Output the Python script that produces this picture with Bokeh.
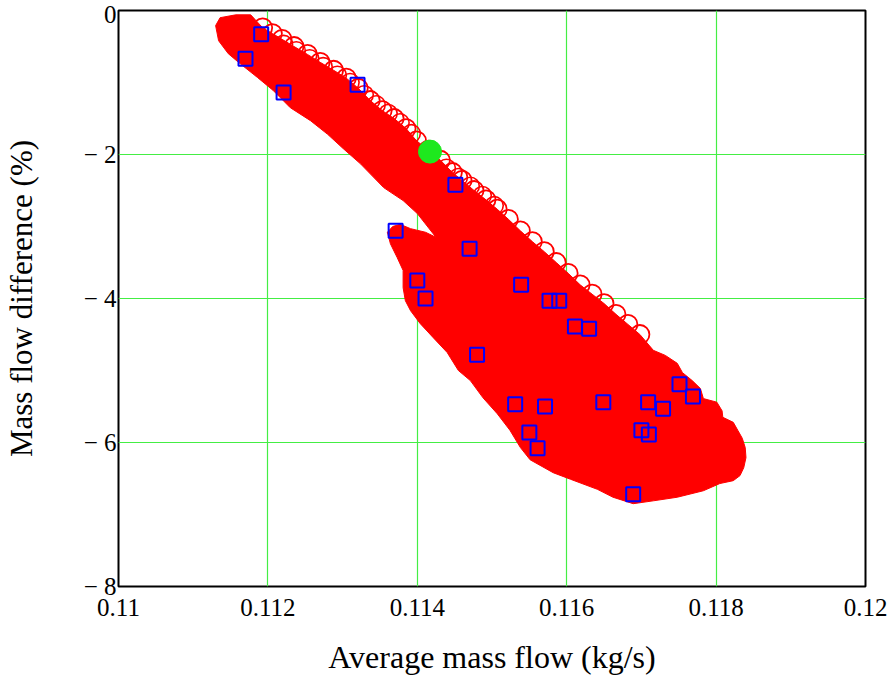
from bokeh.plotting import figure
from bokeh.models import Range1d, FixedTicker
from bokeh.embed import file_html
from bokeh.resources import INLINE

# ---- data ----
x_ticks = [0.11, 0.112, 0.114, 0.116, 0.118, 0.12]
x_tick_labels = ["0.11", "0.112", "0.114", "0.116", "0.118", "0.12"]
y_ticks = [-8, -6, -4, -2, 0]
y_tick_labels = ["\u2212 8", "\u2212 6", "\u2212 4", "\u2212 2", "0"]

# dense cloud of simulated points: outline of the solid region
cloud_head_x = [0.11130, 0.11136, 0.11157, 0.11177]
cloud_head_y = [-0.21, -0.10, -0.06, -0.06]
# individual open circles visible on the upper edge of the cloud
edge_x = [0.11193, 0.11206, 0.11219, 0.11235, 0.11253, 0.11270, 0.11288, 0.11305, 0.11321, 0.11337,
          0.11353, 0.11369, 0.11385, 0.11399, 0.11415, 0.11431, 0.11447, 0.11460, 0.11476, 0.11492,
          0.11507, 0.11522, 0.11538, 0.11554, 0.11570, 0.11586, 0.11602, 0.11618, 0.11634, 0.11650,
          0.11666, 0.11682, 0.11698]
edge_y = [-0.24, -0.32, -0.40, -0.50, -0.61, -0.72, -0.83, -0.94, -1.08, -1.25,
          -1.39, -1.50, -1.64, -1.81, -1.94, -2.08, -2.25, -2.36, -2.50, -2.63,
          -2.76, -2.90, -3.06, -3.21, -3.35, -3.50, -3.65, -3.81, -3.94, -4.07,
          -4.22, -4.36, -4.50]
# second, inner row of open circles on the upper edge
edge2_x = [0.11221, 0.11238, 0.11256, 0.11274, 0.11293, 0.11310, 0.11329, 0.11345, 0.11361, 0.11377,
           0.11392, 0.11439, 0.11455, 0.11471, 0.11487, 0.11503]
edge2_y = [-0.47, -0.56, -0.67, -0.78, -0.90, -1.00, -1.17, -1.31, -1.43, -1.56,
           -1.71, -2.19, -2.32, -2.44, -2.57, -2.71]
cloud_tail_x = [0.11716, 0.11732, 0.11748, 0.11755, 0.11768, 0.11779, 0.11783, 0.11801, 0.11808, 0.11809,
                0.11823, 0.11829, 0.11835, 0.11839, 0.11840, 0.11837, 0.11832, 0.11823, 0.11805, 0.11783,
                0.11748, 0.11716, 0.11689, 0.11662, 0.11641, 0.11605, 0.11582, 0.11551, 0.11538, 0.11524,
                0.11507, 0.11488, 0.11471, 0.11455, 0.11440, 0.11421, 0.11404, 0.11391, 0.11384, 0.11381,
                0.11381, 0.11373, 0.11364, 0.11360, 0.11367, 0.11377, 0.11391, 0.11411, 0.11425, 0.11400,
                0.11381, 0.11355, 0.11324, 0.11301, 0.11280, 0.11257, 0.11230, 0.11207, 0.11186, 0.11163,
                0.11147, 0.11134]
cloud_tail_y = [-4.72, -4.79, -4.90, -5.03, -5.14, -5.25, -5.39, -5.44, -5.56, -5.65,
                -5.72, -5.83, -5.94, -6.07, -6.21, -6.35, -6.46, -6.53, -6.57, -6.67,
                -6.76, -6.81, -6.85, -6.76, -6.65, -6.51, -6.42, -6.24, -6.07, -5.83,
                -5.60, -5.38, -5.14, -5.00, -4.75, -4.54, -4.35, -4.17, -4.03, -3.85,
                -3.61, -3.43, -3.24, -3.08, -3.00, -2.97, -3.03, -3.08, -3.15, -2.82,
                -2.64, -2.46, -2.13, -1.92, -1.72, -1.53, -1.35, -1.11, -0.93, -0.74,
                -0.60, -0.42]

# measured points (blue squares)
meas_x = [0.11191, 0.11170, 0.11221, 0.11320, 0.11451, 0.11371, 0.11470, 0.11400, 0.11411, 0.11539,
          0.11577, 0.11590, 0.11611, 0.11630, 0.11480, 0.11531, 0.11571, 0.11550, 0.11561, 0.11649,
          0.11709, 0.11729, 0.11751, 0.11769, 0.11700, 0.11710, 0.11689]
meas_y = [-0.33, -0.67, -1.14, -1.03, -2.42, -3.06, -3.31, -3.75, -4.00, -3.81,
          -4.03, -4.03, -4.39, -4.42, -4.78, -5.47, -5.50, -5.86, -6.08, -5.44,
          -5.44, -5.53, -5.19, -5.36, -5.83, -5.89, -6.72]

# nominal point (green)
nom_x = [0.11417]
nom_y = [-1.96]

x_title = "Average mass flow (kg/s)"
y_title = "Mass flow difference (%)"

# ---- figure ----
FONT = "Liberation Serif"
p = figure(width=892, height=688,
           x_range=Range1d(0.11, 0.12), y_range=Range1d(-8, 0),
           output_backend="svg", toolbar_location=None,
           min_border_left=118, min_border_right=27,
           min_border_top=10, min_border_bottom=102)

p.background_fill_color = "white"
p.border_fill_color = "white"
p.outline_line_color = "black"
p.outline_line_width = 2

p.xaxis.ticker = FixedTicker(ticks=x_ticks)
p.yaxis.ticker = FixedTicker(ticks=y_ticks)
p.xaxis.major_label_overrides = {t: l for t, l in zip(x_ticks, x_tick_labels)}
p.yaxis.major_label_overrides = {t: l for t, l in zip(y_ticks, y_tick_labels)}

for ax in (p.xaxis, p.yaxis):
    ax.axis_line_color = None
    ax.major_tick_line_color = None
    ax.minor_tick_line_color = None
    ax.major_tick_out = 0
    ax.major_tick_in = 0
    ax.major_label_text_font = FONT
    ax.major_label_text_font_size = "25px"
    ax.major_label_text_color = "black"
    ax.axis_label_text_font = FONT
    ax.axis_label_text_font_style = "normal"
    ax.axis_label_text_color = "black"

p.xaxis.major_label_standoff = 12
p.yaxis.major_label_standoff = 2
p.xaxis.axis_label = x_title
p.yaxis.axis_label = y_title
p.xaxis.axis_label_text_font_size = "32px"
p.yaxis.axis_label_text_font_size = "31px"
p.xaxis.axis_label_standoff = 20
p.yaxis.axis_label_standoff = 42

p.xgrid.ticker = FixedTicker(ticks=x_ticks[1:-1])
p.ygrid.ticker = FixedTicker(ticks=y_ticks[1:-1])
p.grid.grid_line_color = "#44ee44"
p.grid.grid_line_width = 1.2

# red cloud
p.patch(cloud_head_x + edge_x + cloud_tail_x, cloud_head_y + edge_y + cloud_tail_y,
        fill_color="red", line_color="red", line_width=1)
p.scatter(edge2_x, edge2_y, marker="circle", size=18, fill_color=None,
          line_color="red", line_width=1.6)
p.scatter(edge_x, edge_y, marker="circle", size=19, fill_color=None,
          line_color="red", line_width=1.8)

# green nominal point
p.scatter(nom_x, nom_y, marker="circle", size=23, fill_color="#1ee81e", line_color="#1ee81e")

# blue squares
p.scatter(meas_x, meas_y, marker="square", size=14, fill_color=None,
          line_color="blue", line_width=2)

open("out.html", "w").write(file_html(p, INLINE))
